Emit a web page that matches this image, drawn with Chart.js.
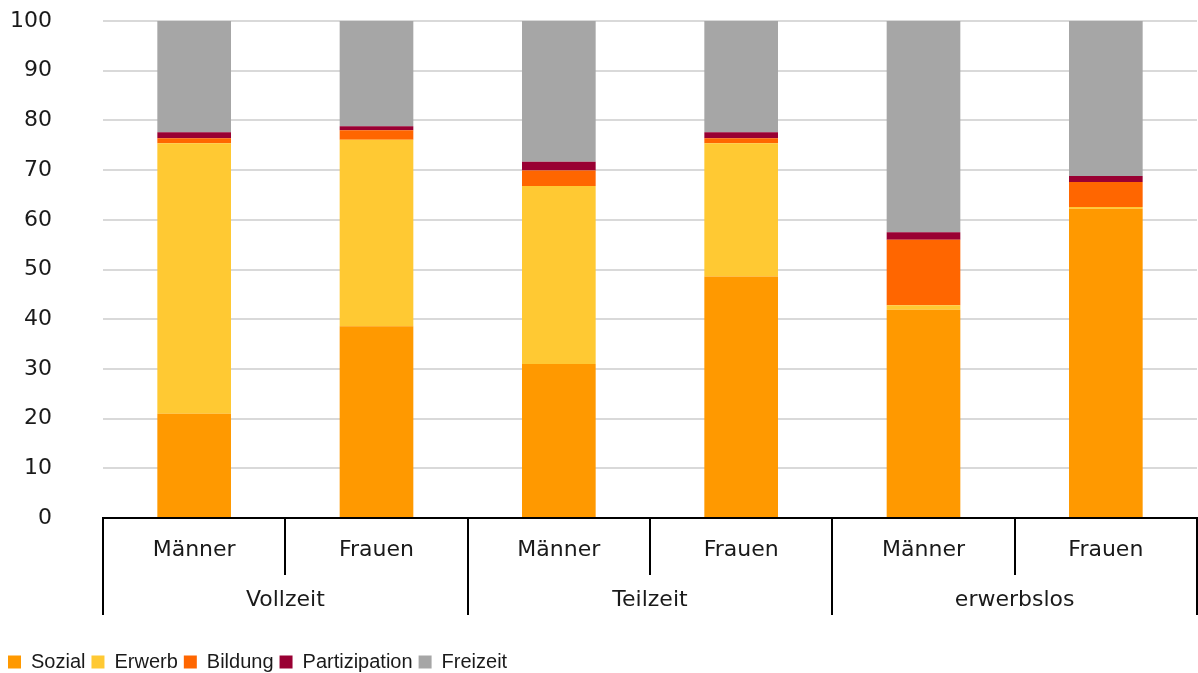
<!DOCTYPE html>
<html>
<head>
<meta charset="utf-8">
<script src="https://cdn.jsdelivr.net/npm/chart.js@4/dist/chart.umd.min.js"></script>
<style>
html,body{margin:0;padding:0;background:#fff;}
#wrap{width:1198px;height:673px;}
</style>
</head>
<body>
<div id="wrap"><canvas id="c" width="1198" height="673"></canvas></div>
<script>
const categories = ['Männer','Frauen','Männer','Frauen','Männer','Frauen'];
const groups = ['Vollzeit','Teilzeit','erwerbslos'];
const sozial        = [21.0, 38.6, 31.0, 48.6, 41.9, 62.2];
const erwerb        = [54.4, 37.5, 35.8, 26.8,  0.9,  0.4];
const bildung       = [ 1.0,  1.9,  3.1,  1.0, 13.2,  5.0];
const partizipation = [ 1.2,  0.8,  1.8,  1.2,  1.5,  1.2];
const freizeit      = [22.4, 21.2, 28.3, 22.4, 42.5, 31.2];
const yTicks = [0,10,20,30,40,50,60,70,80,90,100];

const FONT = '"DejaVu Sans", Verdana, sans-serif';
const LFONT = '"Liberation Sans", Arial, sans-serif';
const TXT = '#1a1a1a';

const groupPlugin = {
  id: 'groupAxis',
  afterDraw(chart) {
    const ctx = chart.ctx;
    const xs = chart.scales.x;
    const n = categories.length;
    const cw = (xs.right - xs.left) / n;
    const y0 = xs.top;
    ctx.save();
    ctx.strokeStyle = '#000';
    ctx.lineWidth = 2;
    for (let i = 0; i <= n; i++) {
      const x = Math.round(xs.getPixelForValue(i) - cw / 2);
      const long = (i % 2 === 0);
      ctx.beginPath();
      ctx.moveTo(x, y0);
      ctx.lineTo(x, long ? y0 + 97 : y0 + 57);
      ctx.stroke();
    }
    ctx.fillStyle = TXT;
    ctx.font = '22px ' + FONT;
    ctx.textAlign = 'center';
    ctx.textBaseline = 'middle';
    groups.forEach((g, gi) => {
      const x = (xs.getPixelForValue(gi * 2) + xs.getPixelForValue(gi * 2 + 1)) / 2;
      ctx.fillText(g, x, y0 + 82);
    });
    ctx.restore();
  }
};

new Chart(document.getElementById('c'), {
  type: 'bar',
  data: {
    labels: categories,
    datasets: [
      {label: 'Sozial', data: sozial, backgroundColor: '#FF9900'},
      {label: 'Erwerb', data: erwerb, backgroundColor: '#FFC933'},
      {label: 'Bildung', data: bildung, backgroundColor: '#FF6600'},
      {label: 'Partizipation', data: partizipation, backgroundColor: '#990033'},
      {label: 'Freizeit', data: freizeit, backgroundColor: '#A6A6A6'}
    ]
  },
  options: {
    responsive: false,
    animation: false,
    layout: {padding: {top: 21, right: 1, left: 2, bottom: -9}},
    datasets: {bar: {categoryPercentage: 1, barPercentage: 0.404, borderWidth: 0}},
    plugins: {
      legend: {
        position: 'bottom',
        align: 'start',
        labels: {
          boxWidth: 13, boxHeight: 13, padding: 6,
          color: TXT,
          font: {size: 20, family: LFONT}
        }
      },
      tooltip: {enabled: false}
    },
    scales: {
      x: {
        stacked: true,
        grid: {display: false, drawTicks: false},
        border: {display: true, color: '#000', width: 2},
        ticks: {color: TXT, font: {size: 22, family: FONT}, padding: 19, maxRotation: 0},
        afterFit(s) { s.height = 128; }
      },
      y: {
        stacked: true,
        min: 0, max: 100,
        afterBuildTicks(s) { s.ticks = yTicks.map(v => ({value: v})); },
        grid: {color: '#d9d9d9', lineWidth: 2, drawTicks: true, tickLength: 51, tickColor: 'rgba(0,0,0,0)'},
        border: {display: false},
        ticks: {color: TXT, font: {size: 22, family: FONT}, padding: 0},
        afterFit(s) { s.width = 101; }
      }
    }
  },
  plugins: [groupPlugin]
});
</script>
</body>
</html>
